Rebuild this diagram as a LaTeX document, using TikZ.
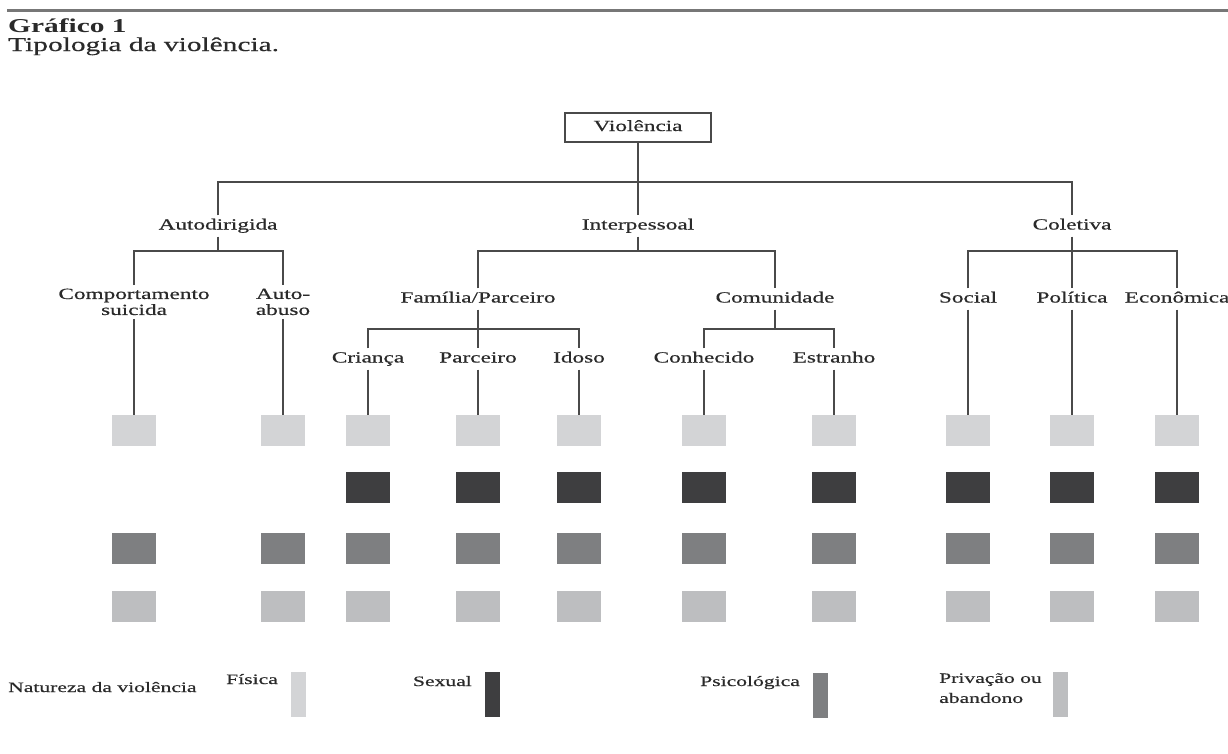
\documentclass[tikz,border=0pt]{standalone}
\usepackage{fontspec}
\setmainfont{Liberation Serif}[FakeStretch=1.5, UprightFeatures={FakeBold=0.5}]
\definecolor{fis}{HTML}{D3D4D6}
\definecolor{sex}{HTML}{3E3E40}
\definecolor{psi}{HTML}{7E7F81}
\definecolor{pri}{HTML}{BDBEC0}
\definecolor{ln}{HTML}{4A4A4A}
\definecolor{txt}{HTML}{2A2A2A}
\definecolor{rule}{HTML}{777777}
\tikzset{
  conn/.style={draw=ln, line width=1.7pt},
  lbl/.style={font=\fontsize{15.5}{16}\selectfont, text=txt, inner xsep=2pt, inner ysep=3.5pt, text height=10.5pt, text depth=3.5pt},
  lbltwo/.style={font=\fontsize{15.5}{16}\selectfont, text=txt, inner xsep=2pt, inner ysep=3.5pt, align=center},
  sq/.style={minimum width=44pt, minimum height=31pt, inner sep=0pt},
  fisbox/.style={sq, fill=fis},
  sexbox/.style={sq, fill=sex},
  psibox/.style={sq, fill=psi},
  pribox/.style={sq, fill=pri},
  bar/.style={minimum width=15pt, minimum height=45pt, inner sep=0pt},
  legtxt/.style={font=\fontsize{14.4}{20}\selectfont, text=txt, inner sep=0pt},
}
\begin{document}
\begin{tikzpicture}[x=1pt, y=-1pt]
\useasboundingbox (0,0) rectangle (1228,753);
% header
\coordinate (rl) at (7,10.5);
\coordinate (rr) at (1228,10.5);
\draw[draw=rule, line width=2.6pt] (rl) -- (rr);
\node[anchor=base west, inner sep=0pt, text=txt, font=\fontsize{19.6}{22}\selectfont\bfseries] (title) at (8,32) {Gráfico 1};
\node[anchor=base west, inner sep=0pt, text=txt, font=\fontsize{19.6}{22}\selectfont] (subtitle) at (8,51) {Tipologia da violência.};
% tree
\node[lbl, draw=ln, line width=1.7pt, minimum width=146pt, minimum height=29pt] (viol) at (638,127.5) {Violência};
\node[lbl] (auto) at (218,226) {Autodirigida};
\node[lbl] (inter) at (638,226) {Interpessoal};
\node[lbl] (colet) at (1072,226) {Coletiva};
\node[lbltwo, anchor=north] (comp) at (134,285) {Comportamento\\suicida};
\node[lbltwo, anchor=north] (autoab) at (283,285) {Auto-\\abuso};
\node[lbl] (fam) at (478,299) {Família/Parceiro};
\node[lbl] (com) at (775,299) {Comunidade};
\node[lbl] (soc) at (968,299) {Social};
\node[lbl] (pol) at (1072,299) {Política};
\node[lbl] (econ) at (1177,299) {Econômica};
\node[lbl] (crianca) at (368,359) {Criança};
\node[lbl] (parc) at (478,359) {Parceiro};
\node[lbl] (idoso) at (579,359) {Idoso};
\node[lbl] (conh) at (704,359) {Conhecido};
\node[lbl] (estr) at (834,359) {Estranho};
% junctions
\coordinate (j0) at (638,182);
\coordinate (jA) at (218,251);
\coordinate (jI) at (638,251);
\coordinate (jK) at (1072,251);
\coordinate (jF) at (478,329);
\coordinate (jC) at (775,329);
\draw[conn] (viol.south) -- (inter.north);
\draw[conn] (auto.north) |- (j0) -| (colet.north);
\draw[conn] (auto.south) -- (jA);
\draw[conn] (comp.north) |- (jA) -| (autoab.north);
\draw[conn] (inter.south) -- (jI);
\draw[conn] (fam.north) |- (jI) -| (com.north);
\draw[conn] (colet.south) -- (pol.north);
\draw[conn] (soc.north) |- (jK) -| (econ.north);
\draw[conn] (fam.south) -- (parc.north);
\draw[conn] (crianca.north) |- (jF) -| (idoso.north);
\draw[conn] (com.south) -- (jC);
\draw[conn] (conh.north) |- (jC) -| (estr.north);
% boxes
\foreach \x [count=\i] in {134,283,368,478,579,704,834,968,1072,1177} {
  \node[fisbox] (f\i) at (\x,430.5) {};
  \ifnum\i>2 \node[sexbox] (s\i) at (\x,487.5) {};\fi
  \node[psibox] (p\i) at (\x,548.5) {};
  \node[pribox] (d\i) at (\x,606.5) {};
}
\foreach \n [count=\i] in {comp,autoab,crianca,parc,idoso,conh,estr,soc,pol,econ} {
  \draw[conn] (\n.south) -- (f\i.north);
}
% legend
\node[legtxt, anchor=base west] (nat) at (8,692) {Natureza da violência};
\node[legtxt, anchor=base east] (lfis) at (278,684) {Física};
\node[bar, fill=fis] (bfis) at (298,694) {};
\node[legtxt, anchor=base east] (lsex) at (472,686) {Sexual};
\node[bar, fill=sex] (bsex) at (492.5,694.5) {};
\node[legtxt, anchor=base east] (lpsi) at (800,686) {Psicológica};
\node[bar, fill=psi] (bpsi) at (820.5,695) {};
\node[legtxt, anchor=north west, align=left] (lpri) at (939,673) {Privação ou\\abandono};
\node[bar, fill=pri] (bpri) at (1060.5,694.5) {};
\end{tikzpicture}
\end{document}
